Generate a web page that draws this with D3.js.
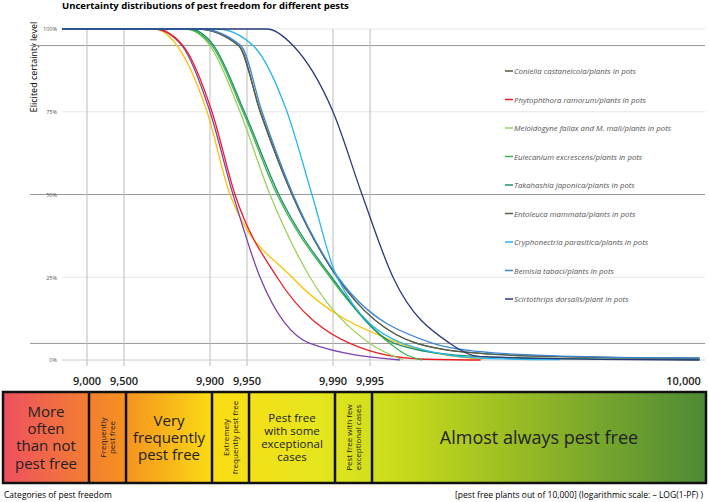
<!DOCTYPE html><html><head><meta charset="utf-8"><script src="https://cdn.jsdelivr.net/npm/d3@7"></script>
<style>body{margin:0;background:#fff}text{font-family:"Open Sans",Calibri,sans-serif}</style></head><body><svg id="c" width="709" height="502"></svg>
<script>
// x values: -log10(1-PF); y: certainty (%)
const seriesNames=["Coniella castaneicola/plants in pots","Phytophthora ramorum/plants in pots","Meloidogyne fallax and M. mali/plants in pots","Eulecanium excrescens/plants in pots","Takahashia japonica/plants in pots","Entoleuca mammata/plants in pots","Cryphonectria parasitica/plants in pots","Bemisia tabaci/plants in pots","Scirtothrips dorsalis/plant in pots","(unlabelled purple)","(unlabelled yellow)"];
const seriesColors=["#4d5a40","#ee1c25","#9bd05a","#3cb54a","#1f8f6a","#5a6048","#29b5ee","#3b86d4","#2b3a78","#7f3fb4","#ffc000"];
const inLegend=[true,true,true,true,true,true,true,true,true,false,false];
const seriesX=[
 [0.5,1.9,2.233,2.41,2.667,3.033,3.683,4.2,4.85,5.98],
 [0.5,1.55,1.78,2.016,2.203,2.545,3.138,3.707,4.2],
 [0.5,1.8,2.0,2.244,2.488,2.813,3.301,3.569],
 [0.5,1.8,2.016,2.268,2.545,2.976,3.463,3.6,3.724],
 [0.5,1.83,2.03,2.28,2.56,2.99,3.5,4.0,4.85,5.98],
 [0.5,1.9,2.233,2.407,2.667,3.033,3.683,4.2,4.85,5.98],
 [0.5,2.057,2.35,2.626,2.829,3.033,3.569,4.22,4.85],
 [0.5,1.92,2.25,2.423,2.675,3.041,3.813,4.2,4.85,5.98],
 [0.5,2.463,2.675,3.0,3.236,3.488,3.951,4.195,5.171,5.98],
 [0.5,1.55,1.772,2.0,2.187,2.407,2.813,3.545],
 [0.5,1.55,1.732,1.976,2.163,2.667,3.545,4.22]];
const seriesY=[
 [100,100,95,75,50,25,5,2,1,0.5],
 [100,100,95,75,50,25,5,0.3,0],
 [100,100,95,75,50,25,5,0],
 [100,100,95,75,50,25,5,1.5,0],
 [100,100,95,75,50,25,5,1.5,0.4,0.1],
 [100,100,95,75,50,25,5,2,1,0.5],
 [100,100,95,75,50,25,5,0.5,0.1],
 [100,100,95,75,50,25,5,2.5,1.2,0.6],
 [100,100,95,75,50,25,5,1,0.2,0],
 [100,100,95,75,50,25,5,0],
 [100,100,95,75,50,25,5,0.2]];
const yTicks=[0,25,50,75,100];
const xTickVals=[1,1.30103,2,2.30103,3,3.30103,5.85];
const xTickLabels=["9,000","9,500","9,900","9,950","9,990","9,995","10,000"];
const categories=["More often than not pest free","Frequently pest free","Very frequently pest free","Extremely frequently pest free","Pest free with some exceptional cases","Pest free with few exceptional cases","Almost always pest free"];
const catBounds=[0.52,1,1.30103,2,2.30103,3,3.30103,6.0];
(function(){
const svg=d3.select("#c");
const x=d3.scaleLinear().domain([1,2]).range([87,210]);
const y=d3.scaleLinear().domain([0,100]).range([360,29]);
const right=705;
svg.append("text").attr("x",62).attr("y",9).attr("font-size",9.5).attr("font-weight","bold").text("Uncertainty distributions of pest freedom for different pests");
svg.append("text").attr("transform","translate(37,67) rotate(-90)").attr("text-anchor","middle").attr("font-size",9).text("Elicited certainty level");
const gh=svg.append("g");
[100,75,25].forEach(v=>gh.append("line").attr("x1",62).attr("x2",right).attr("y1",y(v)).attr("y2",y(v)).attr("stroke","#e6e6e6"));
[95,50,5].forEach(v=>gh.append("line").attr("x1",30).attr("x2",right).attr("y1",y(v)).attr("y2",y(v)).attr("stroke","#999"));
xTickVals.slice(0,6).forEach(v=>gh.append("line").attr("x1",x(v)).attr("x2",x(v)).attr("y1",29).attr("y2",366).attr("stroke","#bbb"));
gh.append("line").attr("x1",62).attr("x2",right).attr("y1",y(0)).attr("y2",y(0)).attr("stroke","#ccc");
const ya=svg.append("g").attr("transform","translate(60,0)").call(d3.axisLeft(y).tickValues(yTicks).tickFormat(d=>d+"%").tickSize(0));
ya.select(".domain").remove();ya.selectAll("text").attr("font-size",5.5).attr("fill","#555");
const line=d3.line().x(d=>x(d[0])).y(d=>y(d[1])).curve(d3.curveMonotoneX);
svg.append("clipPath").attr("id","cp").append("rect").attr("x",62).attr("y",25).attr("width",right-62).attr("height",340);
const order=[10,9,1,2,3,4,0,5,7,6,8];
order.forEach(i=>{svg.append("path").attr("clip-path","url(#cp)").attr("d",line(seriesX[i].map((v,j)=>[v,seriesY[i][j]]))).attr("fill","none").attr("stroke",seriesColors[i]).attr("stroke-width",1.3);});
seriesNames.forEach((n,i)=>{if(!inLegend[i])return;const ly=71+i*28.5;
 svg.append("line").attr("x1",505).attr("x2",513).attr("y1",ly).attr("y2",ly).attr("stroke",seriesColors[i]).attr("stroke-width",1.5);
 svg.append("text").attr("x",514).attr("y",ly+3).attr("font-size",7.8).attr("font-style","italic").attr("fill","#555").text(n);});
const defs=svg.append("defs");const gr=defs.append("linearGradient").attr("id","g").attr("gradientUnits","userSpaceOnUse").attr("x1",3).attr("x2",706).attr("y1",0).attr("y2",0);
[[0,"#ee5060"],[0.17,"#f5901f"],[0.3,"#fbdc14"],[0.45,"#e4e61e"],[0.56,"#c9dc1a"],[1,"#4d8a36"]].forEach(s=>gr.append("stop").attr("offset",s[0]).attr("stop-color",s[1]));
const bTop=392,bBot=483;
const bx=v=>v<=0.52?3:(v>=6?706:x(v)+2);
svg.append("rect").attr("x",3).attr("y",bTop).attr("width",703).attr("height",bBot-bTop).attr("fill","url(#g)").attr("stroke","#111").attr("stroke-width",2.5);
catBounds.slice(1,-1).forEach(v=>svg.append("line").attr("x1",bx(v)).attr("x2",bx(v)).attr("y1",bTop).attr("y2",bBot).attr("stroke","#111").attr("stroke-width",2.5));
const vert=[false,true,false,true,false,true,false];
const lines=[["More","often","than not","pest free"],["Frequently","pest free"],["Very","frequently","pest free"],["Extremely","frequently pest free"],["Pest free","with some","exceptional","cases"],["Pest free with few","exceptional cases"],["Almost always pest free"]];
const fs=[15,8,15,8,11.5,8,18];
categories.forEach((c,i)=>{const cx=(bx(catBounds[i])+bx(catBounds[i+1]))/2,cy=(bTop+bBot)/2;
 const g=svg.append("g").attr("transform",`translate(${cx},${cy})`+(vert[i]?" rotate(-90)":""));
 const L=lines[i],lh=fs[i]*1.15;
 L.forEach((t,k)=>g.append("text").attr("text-anchor","middle").attr("font-size",fs[i]).attr("fill","#222").attr("y",(k-(L.length-1)/2)*lh+fs[i]*0.35).text(t));});
xTickVals.forEach((v,i)=>svg.append("text").attr("x",x(v)).attr("y",385).attr("text-anchor","middle").attr("font-size",11).attr("font-weight",600).attr("fill","#222").text(xTickLabels[i]));
svg.append("text").attr("x",4).attr("y",498).attr("font-size",8.5).text("Categories of pest freedom");
svg.append("text").attr("x",703).attr("y",498).attr("text-anchor","end").attr("font-size",8.5).text("[pest free plants out of 10,000] (logarithmic scale: \u2013 LOG(1-PF) )");
})();
</script></body></html>
